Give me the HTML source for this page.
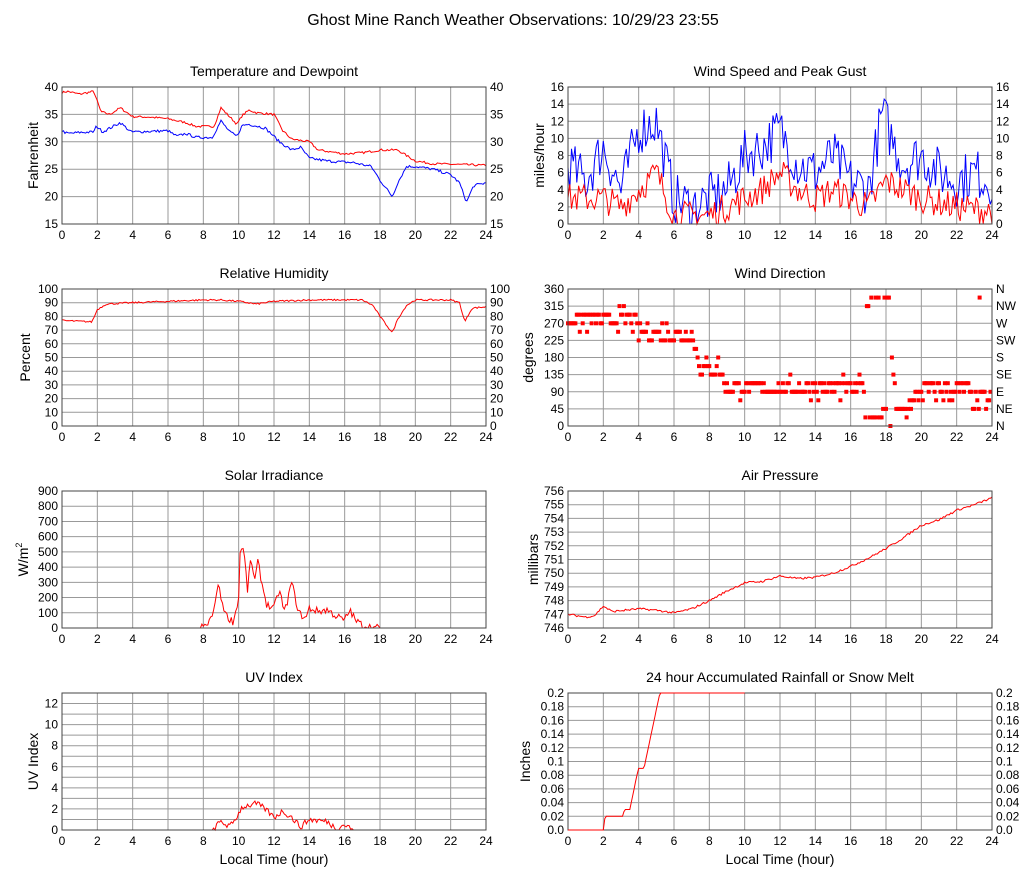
<!DOCTYPE html>
<html><head><meta charset="utf-8"><style>
body{margin:0;background:#fff}
svg{display:block;font-family:"Liberation Sans",sans-serif}
</style></head><body>
<svg id="s" width="1027" height="878" xmlns="http://www.w3.org/2000/svg"></svg>
<script>
var S=document.getElementById('s'),out='';
var seed=7;function rnd(){seed=(seed*16807)%2147483647;return (seed-1)/2147483646;}
function interp(k,t){for(var i=0;i<k.length-1;i++){if(t>=k[i][0]&&t<=k[i+1][0]){var f=(t-k[i][0])/(k[i+1][0]-k[i][0]||1);return k[i][1]+f*(k[i+1][1]-k[i][1]);}}return t<k[0][0]?k[0][1]:k[k.length-1][1];}
function T(x,y,s,sz,anc,extra){out+='<text x="'+x+'" y="'+y+'" font-size="'+sz+'" text-anchor="'+(anc||'start')+'" '+(extra||'')+'>'+s+'</text>';}
function panel(o){
 var x0=o.x0,x1=o.x1,y0=o.y0,y1=o.y1,W=x1-x0,H=y1-y0;
 o.X=function(h){return x0+h/24*W};o.Y=function(v){return y1-(v-o.min)/(o.max-o.min)*H};
 for(var h=2;h<24;h+=2){var x=o.X(h);out+='<line x1="'+x+'" y1="'+y0+'" x2="'+x+'" y2="'+y1+'" stroke="#999"/>';}
 for(var i=0;i<o.ticks.length;i++){var y=y1-i/(o.ticks.length-1)*H;if(i>0&&i<o.ticks.length-1)out+='<line x1="'+x0+'" y1="'+y+'" x2="'+x1+'" y2="'+y+'" stroke="#999"/>';
  T(x0-4,y+4,o.ticks[i],12,'end');
  if(o.right)T(x1+4,y+4,o.right[i],12,'start');}
 for(var h=0;h<=24;h+=2)T(o.X(h),y1+15,h,12,'middle');
 T((x0+x1)/2,y0-11,o.title,14,'middle');
 var cy=(y0+y1)/2;T(o.lx,cy,o.ylabel,14,'middle','transform="rotate(-90 '+o.lx+' '+cy+')"');
 if(o.xlabel)T((x0+x1)/2,y1+34,'Local Time (hour)',14,'middle');
 o.frame='<rect x="'+x0+'" y="'+y0+'" width="'+W+'" height="'+H+'" fill="none" stroke="#444"/>';
 return o;}
function line(o,k,col,n,noise,clampMin,clampMax,tmax){var p=[];for(var i=0;i<=n;i++){var t=i/n*24;if(tmax&&t>tmax)break;var b=interp(k,t);var v=b+((noise&&(clampMin==null||b>0))?(rnd()-0.5)*noise:0);if(clampMin!=null)v=Math.max(clampMin,v);if(clampMax!=null)v=Math.min(clampMax,v);p.push(o.X(t).toFixed(1)+','+o.Y(v).toFixed(1));}
 out+='<polyline points="'+p.join(' ')+'" fill="none" stroke="'+col+'" stroke-width="1"/>';}
T(513,25,'Ghost Mine Ranch Weather Observations: 10/29/23 23:55',16,'middle');
var p1=panel({x0:62,x1:486,y0:87,y1:224,min:15,max:40,ticks:[15,20,25,30,35,40],right:[15,20,25,30,35,40],title:'Temperature and Dewpoint',ylabel:'Fahrenheit',lx:38});
line(p1,[[0,39],[0.3,39.2],[1,38.7],[1.8,39.2],[2.2,35.5],[2.7,35],[3.3,36.2],[4,34.6],[5,34.5],[6,34.2],[7,33.5],[7.6,32.8],[8.6,32.8],[9,36.2],[9.6,34.2],[9.9,33.2],[10.2,34.8],[10.6,35.8],[11,35.3],[12,35],[12.5,32],[13,30.5],[14,30],[14.5,28.5],[16,27.8],[17,28],[18,28.5],[19,28.5],[19.5,27.5],[20,26.5],[21,26],[24,25.7]],'#f00',288,0.4);
line(p1,[[0,32],[0.3,31.5],[1,31.7],[1.8,31.8],[1.95,32.9],[2.3,31.8],[3.3,33.5],[3.9,31.8],[6,32],[6.5,31],[7,31.5],[7.6,30.8],[8.5,30.8],[9,33.8],[9.5,31.8],[9.9,31],[10.2,33],[10.6,33.2],[11.5,32.5],[12,31],[12.3,30],[13,28.5],[13.5,29],[14,27],[15,26.5],[16.5,26.2],[17.5,25.5],[18,23],[18.7,20],[19,22.5],[19.5,25.5],[20,25.5],[21,25],[22,24],[22.5,22.5],[22.9,19],[23.3,22],[24,22.5]],'#00f',288,0.5);
out+=p1.frame;
var p2=panel({x0:568,x1:992,y0:87,y1:224,min:0,max:16,ticks:[0,2,4,6,8,10,12,14,16],right:[0,2,4,6,8,10,12,14,16],title:'Wind Speed and Peak Gust',ylabel:'miles/hour',lx:544});
line(p2,[[0,7],[1,5],[2,9],[3,4],[4,11],[5,12],[6,3],[7,2],[8,3],[9,4],[10,8],[11,9],[12,11],[13,7],[14,6],[15,8],[16,5],[17,4],[17.8,13],[18.5,9],[19,7],[20,8],[21,6],[22,5],[23,6],[24,5]],'#00f',240,6,0,16);
line(p2,[[0,3],[2,3],[3,2],[4,4],[5,6],[6,1],[8,1],[9,2],[10,3],[11,4],[12,6],[13,4],[14,3],[15,4],[16,3],[17,2],[18,5],[19,4],[20,3],[22,2],[24,1.5]],'#f00',240,3.5,0,16);
out+=p2.frame;
var p3=panel({x0:62,x1:486,y0:289,y1:426,min:0,max:100,ticks:[0,10,20,30,40,50,60,70,80,90,100],right:[0,10,20,30,40,50,60,70,80,90,100],title:'Relative Humidity',ylabel:'Percent',lx:30});
line(p3,[[0,77],[1.7,76],[2,85],[2.5,89],[4,90],[6,91],[8,92],[9,92],[10,91],[11,89],[12,91],[14,92],[17,92],[17.6,88],[18,80],[18.7,68],[19,78],[19.5,88],[20,92],[22,92],[22.5,90],[22.8,76],[23.2,86],[24,87]],'#f00',288,1.2);
out+=p3.frame;
var p4=panel({x0:568,x1:992,y0:289,y1:426,min:0,max:360,ticks:[0,45,90,135,180,225,270,315,360],right:['N','NE','E','SE','S','SW','W','NW','N'],title:'Wind Direction',ylabel:'degrees',lx:533});
var dk=[[0,275],[3.5,285],[4,250],[7,245],[7.5,150],[8.5,160],[9,100],[16,100],[16.8,100],[18.3,200],[18.6,30],[19.5,60],[20,95],[22.5,95],[23,60],[24,70]];
for(var i=0;i<288;i++){var t=i/12,v=interp(dk,t)+(rnd()-0.5)*50;if(t>16.8&&t<18.3)v=rnd()<0.5?320+rnd()*25:rnd()*50;v=(v+360)%360;var q=Math.round(v/22.5)*22.5;if(q>=360)q=0;
 out+='<rect x="'+(p4.X(t)-2).toFixed(1)+'" y="'+(p4.Y(q)-2).toFixed(1)+'" width="4" height="4" fill="#f00"/>';}
out+='<rect x="'+(p4.X(23.3)-2)+'" y="'+(p4.Y(337.5)-2)+'" width="4" height="4" fill="#f00"/>';
out+=p4.frame;
var p5=panel({x0:62,x1:486,y0:491,y1:628,min:0,max:900,ticks:[0,100,200,300,400,500,600,700,800,900],title:'Solar Irradiance',ylabel:'W/m<tspan font-size="9" dy="-6">2</tspan>',lx:28});
var sk=[[0,0],[7.8,0],[8.2,20],[8.6,100],[8.8,300],[9,200],[9.3,80],[9.7,40],[10,200],[10.1,550],[10.3,500],[10.5,250],[10.7,470],[10.9,300],[11.1,440],[11.3,300],[11.6,150],[12,130],[12.3,250],[12.6,100],[13,300],[13.4,100],[13.8,60],[14,130],[14.5,110],[15,120],[15.5,80],[16,50],[16.3,120],[16.6,50],[17,20],[17.5,5],[18,0],[24,0]];
line(p5,sk,'#f00',288,50,0);
out+=p5.frame;
var p6=panel({x0:568,x1:992,y0:491,y1:628,min:746,max:756,ticks:[746,747,748,749,750,751,752,753,754,755,756],title:'Air Pressure',ylabel:'millibars',lx:538});
line(p6,[[0,747],[1,746.8],[1.5,746.9],[2,747.6],[2.5,747.2],[4,747.4],[5,747.3],[6,747.1],[7,747.4],[8,748],[9,748.7],[10,749.3],[11,749.4],[12,749.8],[13,749.6],[14,749.7],[15,750],[16,750.5],[17,751.1],[18,751.8],[19,752.6],[20,753.5],[21,753.9],[22,754.6],[23,755],[24,755.5]],'#f00',288,0.15);
out+=p6.frame;
var p7=panel({x0:62,x1:486,y0:693,y1:830,min:0,max:13,ticks:['0','','2','','4','','6','','8','','10','','12',''],title:'UV Index',ylabel:'UV Index',lx:38,xlabel:1});
line(p7,[[0,0],[8.5,0],[9,0.8],[9.5,0.3],[9.8,1],[10.2,2.2],[11,2.5],[11.5,2],[12,1.2],[12.5,1.8],[13,1.2],[13.5,0.3],[14,1],[15,0.8],[15.5,0.2],[16,0.5],[16.5,0],[24,0]],'#f00',288,0.6,0);
out+=p7.frame;
var p8=panel({x0:568,x1:992,y0:693,y1:830,min:0,max:0.2,ticks:['0.0','0.02','0.04','0.06','0.08','0.1','0.12','0.14','0.16','0.18','0.2'],right:['0.0','0.02','0.04','0.06','0.08','0.1','0.12','0.14','0.16','0.18','0.2'],title:'24 hour Accumulated Rainfall or Snow Melt',ylabel:'Inches',lx:530,xlabel:1});
out+=p8.frame;
line(p8,[[0,0],[2,0],[2.1,0.02],[3.1,0.02],[3.2,0.03],[3.5,0.03],[3.9,0.08],[4,0.09],[4.3,0.09],[5.2,0.2],[24,0.2]],'#f00',288,0,null,null,10);
S.innerHTML=out;
</script>
</body></html>
